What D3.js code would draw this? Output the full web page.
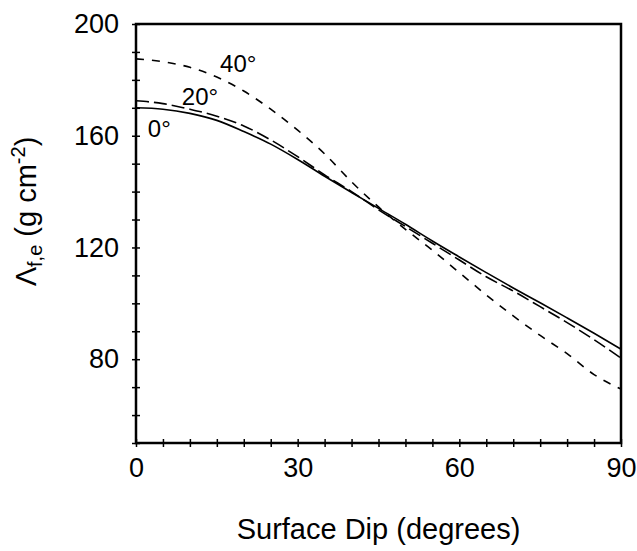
<!DOCTYPE html>
<html>
<head>
<meta charset="utf-8">
<script src="https://cdn.jsdelivr.net/npm/d3@7"></script>
<style>
  html, body { margin: 0; padding: 0; background: #fff; }
  svg { display: block; }
  text { font-family: "Liberation Sans", Arial, Helvetica, sans-serif; fill: #000; }
</style>
</head>
<body>
<svg id="chart" width="637" height="551"></svg>
<script>
// Surface dip (degrees) sampled every 5 degrees
const dip = [0, 5, 10, 15, 20, 25, 30, 35, 40, 45, 50, 55, 60, 65, 70, 75, 80, 85, 90];

// Lambda_f,e (g cm^-2) for each slope orientation
const lambda0 = [170, 169.5, 168, 165.5, 161.5, 157, 151.5, 145.5, 139.7, 134, 128.3, 122.3, 116.6, 111, 105.5, 100.2, 94.8, 89.3, 83.6];
const lambda20 = [172.5, 171.5, 169.5, 167, 163.5, 158.5, 152.5, 146, 140, 133.5, 127.5, 121.5, 115.5, 109.5, 104.4, 98.8, 93.1, 87, 80.4];
const lambda40 = [187.5, 186.5, 184.5, 181, 176, 169.5, 162, 153.5, 143.5, 134.5, 126.5, 119, 111, 103, 95.5, 88.5, 82, 74.5, 69.3];

const seriesNames = ["0°", "20°", "40°"];
// label anchor points in data units (dip, lambda)
const labelDip = [2.2, 8.5, 15.6];
const labelLambda = [159.5, 171, 182.8];

const xTicks = d3.range(0, 91, 5);
const xTickLabels = [0, 30, 60, 90];
const yTicks = d3.range(50, 201, 10);
const yTickLabels = [80, 120, 160, 200];

const margin = { left: 136, right: 16, top: 24, bottom: 108 };
const W = 637, H = 551;
const svg = d3.select("#chart");

const x = d3.scaleLinear().domain([0, 90]).range([margin.left, W - margin.right]);
const y = d3.scaleLinear().domain([50, 200]).range([H - margin.bottom, margin.top]);

const series = [
  { name: seriesNames[0], values: lambda0, dash: null },
  { name: seriesNames[1], values: lambda20, dash: "13,5" },
  { name: seriesNames[2], values: lambda40, dash: "8,8" }
];

const line = d3.line()
  .x(d => x(d[0]))
  .y(d => y(d[1]))
  .curve(d3.curveMonotoneX);

const plot = svg.append("g");
series.forEach(s => {
  plot.append("path")
    .datum(dip.map((d, i) => [d, s.values[i]]))
    .attr("fill", "none")
    .attr("stroke", "#000")
    .attr("stroke-width", 1.6)
    .attr("stroke-dasharray", s.dash)
    .attr("d", line);
});

// curve labels
series.forEach((s, i) => {
  svg.append("text")
    .attr("x", x(labelDip[i]))
    .attr("y", y(labelLambda[i]))
    .attr("font-size", 24)
    .text(s.name);
});

// frame
svg.append("rect")
  .attr("x", x(0)).attr("y", y(200))
  .attr("width", x(90) - x(0)).attr("height", y(50) - y(200))
  .attr("fill", "none").attr("stroke", "#000").attr("stroke-width", 2.5);

// bottom axis with ticks crossing the frame
const xAxis = svg.append("g")
  .attr("transform", `translate(0,${y(50)})`)
  .call(d3.axisBottom(x).tickValues(xTicks).tickSizeOuter(0)
    .tickFormat(d => xTickLabels.includes(d) ? d : ""));
xAxis.select(".domain").remove();
xAxis.selectAll(".tick line").attr("y1", -4).attr("y2", 4).attr("stroke-width", 1.5);
xAxis.selectAll(".tick text").attr("y", 15).attr("font-size", 27)
  .attr("font-family", "Liberation Sans, Arial, sans-serif");

// left axis
const yAxis = svg.append("g")
  .attr("transform", `translate(${x(0)},0)`)
  .call(d3.axisLeft(y).tickValues(yTicks).tickSizeOuter(0)
    .tickFormat(d => yTickLabels.includes(d) ? d : ""));
yAxis.select(".domain").remove();
yAxis.selectAll(".tick line").attr("x1", -4).attr("x2", 4).attr("stroke-width", 1.5);
yAxis.selectAll(".tick text").attr("x", -17).attr("font-size", 27)
  .attr("font-family", "Liberation Sans, Arial, sans-serif");

// axis titles
svg.append("text")
  .attr("x", (x(0) + x(90)) / 2)
  .attr("y", 539)
  .attr("text-anchor", "middle")
  .attr("font-size", 29)
  .text("Surface Dip (degrees)");

const yt = svg.append("text")
  .attr("transform", `translate(36,${(y(50) + y(200)) / 2 - 22}) rotate(-90)`)
  .attr("text-anchor", "middle")
  .attr("font-size", 29);
yt.append("tspan").text("Λ");
yt.append("tspan").attr("dy", 6).attr("font-size", 20).text("f,e");
yt.append("tspan").attr("dy", -6).text(" (g cm");
yt.append("tspan").attr("dy", -11).attr("font-size", 20).text("-2");
yt.append("tspan").attr("dy", 11).text(")");
</script>
</body>
</html>
